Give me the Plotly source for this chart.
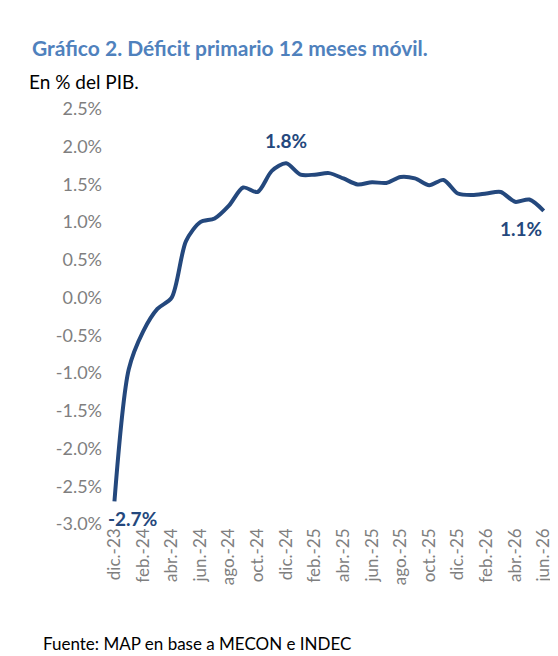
import plotly.graph_objs as go

## Data
months = ["dic.-23", "ene.-24", "feb.-24", "mar.-24", "abr.-24", "may.-24", "jun.-24", "jul.-24",
          "ago.-24", "sep.-24", "oct.-24", "nov.-24", "dic.-24", "ene.-25", "feb.-25", "mar.-25",
          "abr.-25", "may.-25", "jun.-25", "jul.-25", "ago.-25", "sep.-25", "oct.-25", "nov.-25",
          "dic.-25", "ene.-26", "feb.-26", "mar.-26", "abr.-26", "may.-26", "jun.-26"]
deficit = [-2.7, -0.95, -0.45, -0.15, 0.0, 0.75, 1.0, 1.05, 1.22, 1.46, 1.4, 1.68, 1.78, 1.63, 1.63, 1.65,
           1.58, 1.5, 1.53, 1.52, 1.6, 1.58, 1.49, 1.56, 1.38, 1.36, 1.38, 1.4, 1.27, 1.3, 1.15]
y_ticks = [2.5, 2.0, 1.5, 1.0, 0.5, 0.0, -0.5, -1.0, -1.5, -2.0, -2.5, -3.0]

line_color = "#24487d"
font = "Lato"

fig = go.Figure()
fig.add_trace(go.Scatter(x=list(range(len(months))), y=deficit, mode="lines",
                         line=dict(color=line_color, width=4, shape="spline", smoothing=0.8),
                         hoverinfo="skip"))

fig.update_layout(
    width=558, height=656,
    margin=dict(l=95, r=18, t=101, b=140, autoexpand=False),
    paper_bgcolor="white", plot_bgcolor="white",
    showlegend=False,
    font=dict(family=font),
)
fig.update_xaxes(
    range=[-0.8, 30.3], automargin=False,
    tickmode="array", tickvals=list(range(0, len(months), 2)), ticktext=months[::2],
    tickangle=-90, tickfont=dict(size=17, color="#7f7f7f"),
    showgrid=False, zeroline=False, showline=False,
)
fig.update_yaxes(
    range=[-3.0, 2.5], automargin=False,
    tickmode="array", tickvals=y_ticks, ticktext=[f"{v:.1f}%" for v in y_ticks],
    tickfont=dict(size=18, color="#7f7f7f"),
    showgrid=False, zeroline=False, showline=False,
)

annotations = [
    dict(xref="paper", yref="paper", x=-0.165, y=1.147, xanchor="left", yanchor="middle", showarrow=False,
         text="<b>Gráfico 2. Déficit primario 12 meses móvil.</b>", font=dict(size=21, color="#4f81bd")),
    dict(xref="paper", yref="paper", x=-0.17, y=1.067, xanchor="left", yanchor="middle", showarrow=False,
         text="En % del PIB.", font=dict(size=19, color="black")),
    dict(xref="x", yref="y", x=12, y=deficit[12] + 0.12, xanchor="center", yanchor="bottom", showarrow=False,
         text="<b>1.8%</b>", font=dict(size=19, color=line_color)),
    dict(xref="x", yref="y", x=0, y=deficit[0] - 0.05, xanchor="left", yanchor="top", showarrow=False,
         xshift=-8, text="<b>-2.7%</b>", font=dict(size=19, color=line_color)),
    dict(xref="x", yref="y", x=30, y=deficit[30] - 0.05, xanchor="right", yanchor="top", showarrow=False,
         text="<b>1.1%</b>", font=dict(size=19, color=line_color)),
    dict(xref="paper", yref="paper", x=-0.14, y=-0.289, xanchor="left", yanchor="middle", showarrow=False,
         text="Fuente: MAP en base a MECON e INDEC", font=dict(size=17, color="black")),
]
fig.update_layout(annotations=annotations)

fig.write_html("out.html")
